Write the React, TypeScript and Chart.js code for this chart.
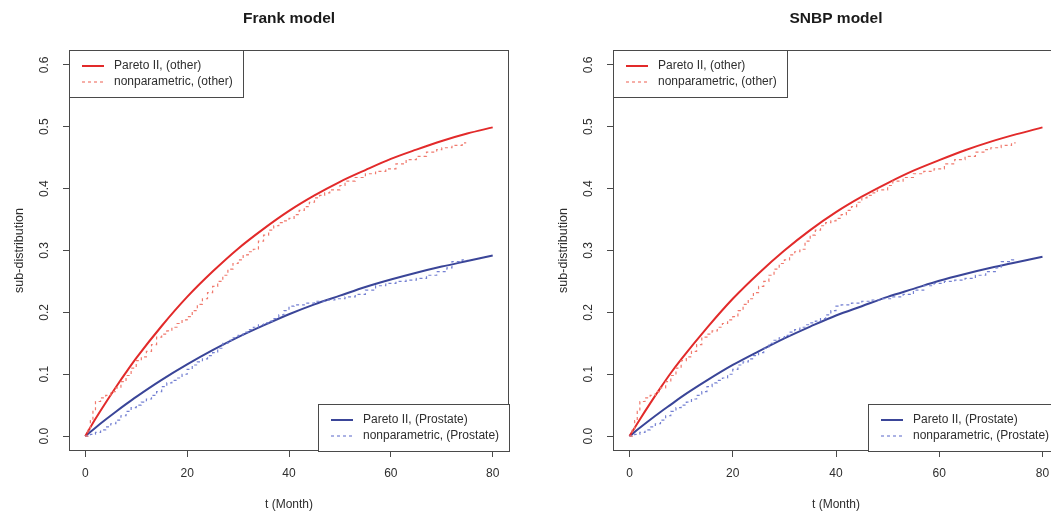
import React, { useEffect, useRef } from "react";
import { Chart, registerables } from "chart.js";

Chart.register(...registerables);

// ---------- data ----------
const xTicks = [0, 20, 40, 60, 80];
const yTicks = [0, 0.1, 0.2, 0.3, 0.4, 0.5, 0.6];

const panelTitles = ["Frank model", "SNBP model"];
const xAxisTitle = "t (Month)";
const yAxisTitle = "sub-distribution";
const legendTopLabels = ["Pareto II, (other)", "nonparametric, (other)"];
const legendBottomLabels = ["Pareto II, (Prostate)", "nonparametric, (Prostate)"];

const paretoTimes = [0, 2, 4, 6, 8, 10, 15, 20, 25, 30, 35, 40, 45, 50, 55, 60, 65, 70, 75, 80];
const frankParetoOther = [0, 0.028, 0.054, 0.079, 0.103, 0.126, 0.178, 0.225, 0.266, 0.303, 0.335, 0.364, 0.389, 0.411, 0.43, 0.448, 0.463, 0.477, 0.489, 0.499];
const frankParetoProstate = [0, 0.0137, 0.0268, 0.0395, 0.0517, 0.0635, 0.091, 0.116, 0.139, 0.16, 0.179, 0.197, 0.213, 0.227, 0.241, 0.253, 0.264, 0.274, 0.283, 0.292];
const snbpParetoOther = [0, 0.027, 0.053, 0.078, 0.102, 0.124, 0.175, 0.222, 0.263, 0.3, 0.333, 0.362, 0.387, 0.409, 0.429, 0.446, 0.462, 0.476, 0.488, 0.499];
const snbpParetoProstate = [0, 0.0135, 0.0265, 0.039, 0.051, 0.063, 0.09, 0.115, 0.137, 0.158, 0.177, 0.195, 0.21, 0.225, 0.238, 0.251, 0.262, 0.272, 0.281, 0.29];

const npOtherTimes = [0, 0.5, 1, 1.5, 2, 3, 4, 5, 6, 7, 8, 9, 10, 11, 12, 13, 14, 15, 16, 17, 18, 19, 20, 21, 22, 23, 24, 25, 26, 27, 28, 29, 30, 31, 32, 33, 34, 35, 36, 37, 38, 39, 40, 41, 42, 43, 44, 45, 46, 47, 48, 50, 51, 53, 55, 57, 59, 61, 63, 65, 67, 69, 70, 72, 74, 74.8];
const npOtherValues = [0, 0.012, 0.025, 0.04, 0.056, 0.062, 0.066, 0.072, 0.078, 0.088, 0.098, 0.11, 0.122, 0.128, 0.137, 0.148, 0.16, 0.165, 0.17, 0.176, 0.182, 0.188, 0.193, 0.203, 0.213, 0.222, 0.232, 0.242, 0.25, 0.26, 0.27, 0.279, 0.285, 0.293, 0.298, 0.302, 0.315, 0.325, 0.333, 0.34, 0.345, 0.348, 0.352, 0.358, 0.365, 0.371, 0.378, 0.385, 0.389, 0.393, 0.398, 0.405, 0.412, 0.418, 0.424, 0.428, 0.432, 0.44, 0.447, 0.452, 0.459, 0.463, 0.466, 0.47, 0.474, 0.474];

const npProstateTimes = [0, 1, 2, 3, 4, 5, 6, 7, 8, 9, 10, 11, 12, 13, 14, 15, 16, 17, 18, 19, 20, 21, 22, 23, 24, 25, 26, 27, 28, 29, 30, 31, 32, 33, 34, 35, 36, 37, 38, 39, 40, 41, 43, 45, 47, 49, 51, 53, 55, 57, 59, 61, 63, 65, 67, 69, 71, 72, 74, 75];
const npProstateValues = [0, 0.003, 0.006, 0.01, 0.015, 0.02, 0.026, 0.033, 0.04, 0.046, 0.05, 0.055, 0.06, 0.066, 0.072, 0.08, 0.086, 0.09, 0.094, 0.1, 0.108, 0.115, 0.12, 0.125, 0.13, 0.135, 0.142, 0.15, 0.155, 0.159, 0.163, 0.168, 0.172, 0.176, 0.18, 0.183, 0.186, 0.19, 0.196, 0.203, 0.21, 0.212, 0.215, 0.218, 0.22, 0.222, 0.225, 0.229, 0.236, 0.243, 0.247, 0.25, 0.252, 0.255, 0.26, 0.266, 0.272, 0.282, 0.285, 0.285];

// ---------- styles ----------
const FONT = "'Liberation Sans', Arial, Helvetica, sans-serif";
const RED = "#e22a2a";
const RED_NP = "#f07a6e";
const BLUE = "#3a4598";
const BLUE_NP = "#7480d2";
const AXIS = "#4a4a4a";
const TEXT = "#2e2e2e";

const toXY = (xs: number[], ys: number[]) => xs.map((x, i) => ({ x, y: ys[i] }));

function drawLegend(
  ctx: CanvasRenderingContext2D,
  corner: "topleft" | "bottomright",
  area: { left: number; right: number; top: number; bottom: number },
  labels: string[],
  styles: { color: string; dash: number[]; width: number }[]
) {
  ctx.save();
  ctx.font = `12px ${FONT}`;
  const maxW = Math.max(...labels.map((l) => ctx.measureText(l).width));
  const w = Math.round(45 + maxW + 10);
  const h = 47;
  let left: number, top: number;
  if (corner === "topleft") {
    left = Math.round(area.left);
    top = Math.round(area.top);
  } else {
    left = Math.round(area.right) - w;
    top = Math.round(area.bottom) - h;
  }
  ctx.fillStyle = "#ffffff";
  ctx.fillRect(left, top, w, h);
  ctx.strokeStyle = AXIS;
  ctx.lineWidth = 1;
  ctx.setLineDash([]);
  ctx.strokeRect(left + 0.5, top + 0.5, w, h);
  labels.forEach((lab, i) => {
    const y = top + 16 + i * 16;
    const st = styles[i];
    ctx.beginPath();
    ctx.strokeStyle = st.color;
    ctx.lineWidth = st.width;
    ctx.setLineDash(st.dash);
    ctx.moveTo(left + 13, y);
    ctx.lineTo(left + 35, y);
    ctx.stroke();
    ctx.setLineDash([]);
    ctx.fillStyle = TEXT;
    ctx.textAlign = "left";
    ctx.textBaseline = "middle";
    ctx.fillText(lab, left + 45, y);
  });
  ctx.restore();
}

const rPanelPlugin = {
  id: "rPanel",
  afterDatasetsDraw(chart: any, _args: any, opts: any) {
    const { ctx, chartArea: a, scales } = chart;
    ctx.save();
    // frame
    ctx.strokeStyle = AXIS;
    ctx.lineWidth = 1;
    ctx.setLineDash([]);
    ctx.strokeRect(Math.round(a.left) + 0.5, Math.round(a.top) + 0.5, Math.round(a.right - a.left) - 1, Math.round(a.bottom - a.top) - 1);
    // rotated y tick labels
    ctx.fillStyle = TEXT;
    ctx.font = `12px ${FONT}`;
    ctx.textAlign = "center";
    ctx.textBaseline = "middle";
    scales.y.ticks.forEach((t: any) => {
      const y = scales.y.getPixelForValue(t.value);
      ctx.save();
      ctx.translate(a.left - 24, y);
      ctx.rotate(-Math.PI / 2);
      ctx.fillText(Number(t.value).toFixed(1), 0, 0);
      ctx.restore();
    });
    // title
    ctx.font = `bold 15.5px ${FONT}`;
    ctx.fillStyle = "#1a1a1a";
    ctx.fillText(opts.title, (a.left + a.right) / 2, 19);
    ctx.restore();
    // legends
    drawLegend(ctx, "topleft", a, legendTopLabels, [
      { color: RED, dash: [], width: 2 },
      { color: RED_NP, dash: [3, 3], width: 1.2 },
    ]);
    drawLegend(ctx, "bottomright", a, legendBottomLabels, [
      { color: BLUE, dash: [], width: 2 },
      { color: BLUE_NP, dash: [3, 3], width: 1.2 },
    ]);
  },
};

function Panel(props: { title: string; other: number[]; prostate: number[]; left: number; width: number; rightPad: number }) {
  const ref = useRef<HTMLCanvasElement | null>(null);
  useEffect(() => {
    if (!ref.current) return;
    const chart = new Chart(ref.current, {
      type: "line",
      data: {
        datasets: [
          {
            label: legendTopLabels[1],
            data: toXY(npOtherTimes, npOtherValues),
            borderColor: RED_NP,
            borderWidth: 1.2,
            borderDash: [3, 3],
            stepped: "before",
            pointRadius: 0,
            fill: false,
          },
          {
            label: legendBottomLabels[1],
            data: toXY(npProstateTimes, npProstateValues),
            borderColor: BLUE_NP,
            borderWidth: 1.2,
            borderDash: [3, 3],
            stepped: "before",
            pointRadius: 0,
            fill: false,
          },
          {
            label: legendTopLabels[0],
            data: toXY(paretoTimes, props.other),
            borderColor: RED,
            borderWidth: 2,
            cubicInterpolationMode: "monotone",
            pointRadius: 0,
            fill: false,
          },
          {
            label: legendBottomLabels[0],
            data: toXY(paretoTimes, props.prostate),
            borderColor: BLUE,
            borderWidth: 2,
            cubicInterpolationMode: "monotone",
            pointRadius: 0,
            fill: false,
          },
        ],
      },
      options: {
        responsive: false,
        animation: false,
        devicePixelRatio: 1,
        events: [],
        layout: { padding: { left: 0, top: 50, right: props.rightPad, bottom: 0 } },
        plugins: {
          legend: { display: false },
          tooltip: { enabled: false },
          title: { display: false },
          rPanel: { title: props.title },
        } as any,
        scales: {
          x: {
            type: "linear",
            min: -3.2,
            max: 83.2,
            afterBuildTicks: (s: any) => {
              s.ticks = xTicks.map((v) => ({ value: v }));
            },
            afterFit: (s: any) => {
              s.height = 62;
            },
            grid: { drawOnChartArea: false, drawTicks: true, tickLength: 6, color: AXIS, lineWidth: 1 },
            border: { display: false },
            ticks: {
              autoSkip: false,
              maxRotation: 0,
              padding: 9,
              color: TEXT,
              font: { family: FONT, size: 12 },
            },
            title: {
              display: true,
              text: xAxisTitle,
              color: TEXT,
              font: { family: FONT, size: 12 },
              padding: { top: 0, bottom: 1 },
            },
          },
          y: {
            type: "linear",
            min: -0.024,
            max: 0.624,
            afterBuildTicks: (s: any) => {
              s.ticks = yTicks.map((v) => ({ value: v }));
            },
            afterFit: (s: any) => {
              s.width = 69;
            },
            grid: { drawOnChartArea: false, drawTicks: true, tickLength: 6, color: AXIS, lineWidth: 1 },
            border: { display: false },
            ticks: { display: false },
            title: {
              display: true,
              text: yAxisTitle,
              color: TEXT,
              font: { family: FONT, size: 12.5 },
              padding: { top: 12, bottom: 0 },
            },
          },
        },
      },
      plugins: [rPanelPlugin],
    } as any);
    return () => chart.destroy();
  }, []);
  return (
    <canvas
      ref={ref}
      width={props.width}
      height={513}
      style={{ position: "absolute", left: props.left, top: 0, width: props.width, height: 513 }}
    />
  );
}

export default function App() {
  return (
    <div
      style={{
        position: "fixed",
        left: 0,
        top: 0,
        width: 1051,
        height: 513,
        overflow: "hidden",
        background: "#ffffff",
      }}
    >
      <Panel title={panelTitles[0]} other={frankParetoOther} prostate={frankParetoProstate} left={0} width={560} rightPad={51} />
      <Panel title={panelTitles[1]} other={snbpParetoOther} prostate={snbpParetoProstate} left={544} width={560} rightPad={45} />
    </div>
  );
}
